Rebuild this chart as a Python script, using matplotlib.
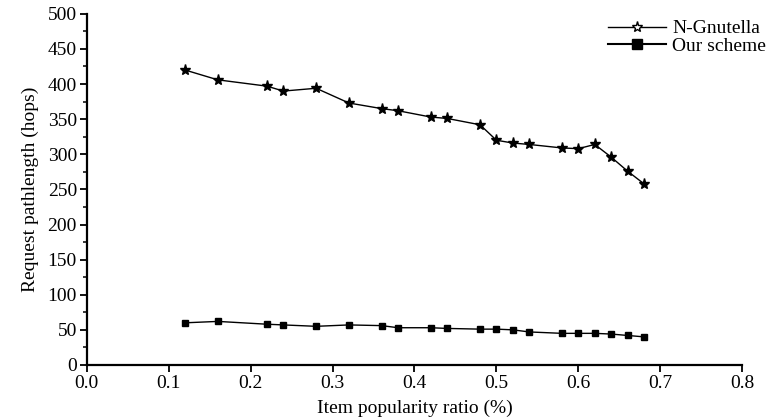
import matplotlib
matplotlib.use("Agg")
import matplotlib.pyplot as plt
from matplotlib.ticker import MultipleLocator
from matplotlib.lines import Line2D

plt.rcParams['font.family'] = ['Liberation Serif', 'DejaVu Serif']

x = [0.12, 0.16, 0.22, 0.24, 0.28, 0.32, 0.36, 0.38, 0.42, 0.44,
     0.48, 0.50, 0.52, 0.54, 0.58, 0.60, 0.62, 0.64, 0.66, 0.68]
gnutella = [420, 406, 397, 390, 394, 373, 365, 362, 353, 351,
            342, 320, 316, 314, 309, 308, 314, 296, 276, 258]
ours = [60, 62, 58, 57, 55, 57, 56, 53, 53, 52,
        51, 51, 50, 47, 45, 45, 45, 44, 42, 40]
labels = ['N-Gnutella', 'Our scheme']

fig = plt.figure(figsize=(7.74, 4.19), dpi=100)
ax = fig.add_axes([0.112, 0.129, 0.847, 0.838])

ax.plot(x, gnutella, color='black', lw=1.0, marker='*', ms=8,
        mfc='black', mec='black')
ax.plot(x, ours, color='black', lw=1.0, marker='s', ms=5,
        mfc='black', mec='black')

ax.set_xlim(0.0, 0.8)
ax.set_ylim(0, 500)
ax.xaxis.set_major_locator(MultipleLocator(0.1))
ax.yaxis.set_major_locator(MultipleLocator(50))
ax.yaxis.set_minor_locator(MultipleLocator(25))
ax.set_xticklabels([f"{v:.1f}" for v in ax.get_xticks()])

for s in ['top', 'right']:
    ax.spines[s].set_visible(False)
for s in ['left', 'bottom']:
    ax.spines[s].set_linewidth(1.6)
ax.tick_params(which='major', direction='out', length=5, width=1.3, labelsize=14, pad=2)
ax.tick_params(which='minor', direction='out', length=3, width=1.1)

ax.set_xlabel('Item popularity ratio (%)', fontsize=14, labelpad=6)
ax.set_ylabel('Request pathlength (hops)', fontsize=14, labelpad=6)

handles = [Line2D([], [], color='black', lw=1.0, marker='*', ms=8, mfc='white', mec='black'),
           Line2D([], [], color='black', lw=1.5, marker='s', ms=7, mfc='black', mec='black')]
ax.legend(handles, labels, loc='upper left', frameon=False, fontsize=14,
          handlelength=3.0, bbox_to_anchor=(0.783, 1.005), borderaxespad=0.0,
          handletextpad=0.3, labelspacing=0.0)

fig.savefig('out.png', dpi=100)
